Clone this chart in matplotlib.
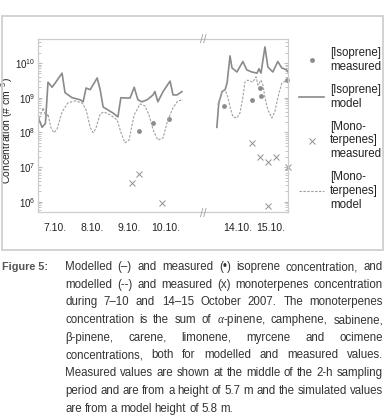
import numpy as np
import matplotlib
matplotlib.use('Agg')
import matplotlib.pyplot as plt
from matplotlib.patches import Rectangle

plt.rcParams['font.family'] = ['Liberation Sans', 'DejaVu Sans']
plt.rcParams['mathtext.fontset'] = 'custom'
plt.rcParams['mathtext.rm'] = 'Liberation Sans'
plt.rcParams['mathtext.it'] = 'Liberation Serif:italic'

# --- data (day of October 2007, concentration in # cm-3) ---
# 7.-10.10.
iso_model_day_a = [6.54, 6.65, 6.74, 6.81, 6.92, 7.00, 7.19, 7.27, 7.46, 7.68, 7.76, 7.84, 7.95,
                   8.14, 8.22, 8.30, 8.57, 8.70, 8.78, 8.89, 9.03, 9.14, 9.24, 9.35, 9.49,
                   9.65, 9.70, 9.78, 9.92, 10.11, 10.19, 10.30, 10.43]
iso_model_a = [2.8e8, 1.4e8, 1.8e8, 2.8e9, 2.0e9, 2.6e9, 5.1e9, 1.4e9, 1.0e9, 8.7e8, 7.6e8, 1.9e9, 1.7e9,
               3.7e9, 1.7e9, 5.4e8, 3.6e8, 2.8e8, 1.0e9, 9.8e8, 9.8e8, 2.0e9, 8.7e8, 7.6e8, 8.7e8,
               1.2e9, 1.5e9, 7.6e8, 1.5e9, 3.0e9, 1.2e9, 1.2e9, 1.5e9]
mono_model_day_a = [6.54, 6.68, 6.76, 6.81, 6.89, 6.97, 7.05, 7.19, 7.35, 7.54, 7.73, 7.84, 7.95,
                    8.03, 8.11, 8.22, 8.32, 8.49, 8.68, 8.78, 8.89, 9.00, 9.14, 9.30, 9.43,
                    9.54, 9.65, 9.78, 9.92, 10.05, 10.19, 10.32, 10.46]
mono_model_a = [2.0e8, 5.1e8, 2.6e8, 3.4e8, 1.35e8, 9.8e7, 1.2e8, 3.9e8, 7.1e8, 8.1e8, 7.1e8, 4.5e8, 1.4e8,
                9.8e7, 1.35e8, 3.4e8, 3.9e8, 3.2e8, 2.3e8, 1.0e8, 5.0e7, 6.0e7, 3.2e8, 6.6e8, 5.8e8,
                3.2e8, 1.2e8, 6.0e7, 6.9e7, 2.3e8, 5.1e8, 8.1e8, 8.7e8]
iso_meas_day_a = [9.27, 9.65, 10.08]
iso_meas_a = [1.1e8, 1.9e8, 2.5e8]
mono_meas_day_a = [9.08, 9.27, 9.89]
mono_meas_a = [3.5e6, 6.5e6, 9.3e5]

# 14.-15.10.
iso_model_day_b = [13.36, 13.42, 13.52, 13.61, 13.67, 13.76, 13.82, 13.97, 14.15, 14.27, 14.42,
                   14.58, 14.64, 14.70, 14.82, 14.91, 15.06, 15.21, 15.33, 15.48, 15.55]
iso_model_b = [1.4e8, 7.1e8, 1.5e9, 1.7e9, 2.6e9, 1.6e10, 7.2e9, 5.5e9, 1.1e10, 6.3e9, 5.5e9,
               5.1e9, 6.8e9, 5.1e9, 2.9e10, 7.6e9, 5.5e9, 1.1e10, 7.2e9, 6.3e9, 5.1e9]
mono_model_day_b = [13.39, 13.52, 13.61, 13.70, 13.76, 13.85, 13.97, 14.06, 14.15, 14.21, 14.30, 14.45,
                    14.55, 14.61, 14.70, 14.76, 14.82, 14.91, 15.03, 15.12, 15.21, 15.33, 15.48, 15.55]
mono_model_b = [6.2e8, 1.5e9, 1.7e9, 1.0e9, 5.4e8, 2.8e8, 2.6e8, 3.6e8, 1.0e9, 2.8e9, 3.2e9, 2.8e9,
                4.0e9, 2.3e9, 3.2e9, 2.3e9, 1.0e9, 4.5e8, 2.6e8, 3.9e8, 1.0e9, 2.6e9, 3.2e9, 3.2e9]
iso_meas_day_b = [13.58, 14.42, 14.70, 14.67, 15.48]
iso_meas_b = [5.8e8, 8.7e8, 1.1e9, 1.9e9, 3.2e9]
mono_meas_day_b = [14.42, 14.67, 14.91, 15.15, 15.52, 14.91]
mono_meas_b = [5.0e7, 1.9e7, 1.4e7, 1.9e7, 1.0e7, 7.6e5]

ticks_a = [7, 8, 9, 10]
ticks_b = [14, 15]
tick_labels_a = ['7.10.', '8.10.', '9.10.', '10.10.']
tick_labels_b = ['14.10.', '15.10.']

caption_lines = [
    'Modelled (–) and measured (•) isoprene concentration, and',
    'modelled (--) and measured (x) monoterpenes concentration',
    'during 7–10 and 14–15 October 2007. The monoterpenes',
    'concentration is the sum of $\\alpha$-pinene, camphene, sabinene,',
    'β-pinene, carene, limonene, myrcene and ocimene',
    'concentrations, both for modelled and measured values.',
    'Measured values are shown at the middle of the 2-h sampling',
    'period and are from a height of 5.7 m and the simulated values',
    'are from a model height of 5.8 m.',
]

W, H = 387, 418
fig = plt.figure(figsize=(W / 100, H / 100), dpi=100)

# outer frame round the chart
fig.add_artist(Rectangle((2 / W, 1 - 250 / H), 381 / W, 234 / H, transform=fig.transFigure,
                         fill=False, edgecolor='#cfcfcf', linewidth=1.3))

ax1 = fig.add_axes([38 / W, 1 - 212 / H, 165 / W, 173 / H])
ax2 = fig.add_axes([203 / W, 1 - 212 / H, 85 / W, 173 / H], sharey=ax1)

line_col = '#8a8a8a'
dash_col = '#a0a0a0'
for ax, d in [(ax1, 'a'), (ax2, 'b')]:
    g = globals()
    ax.plot(g['iso_meas_day_' + d], g['iso_meas_' + d], 'o', color='#8c8c8c', ms=3.5,
            mec='none', clip_on=False, label='[Isoprene]\nmeasured')
    ax.plot(g['iso_model_day_' + d], g['iso_model_' + d], '-', color=line_col, lw=1.2,
            label='[Isoprene]\nmodel')
    ax.plot(g['mono_meas_day_' + d], g['mono_meas_' + d], 'x', color='#909090', ms=4.5,
            mew=0.7, clip_on=False, label='[Mono-\nterpenes]\nmeasured')
    ax.plot(g['mono_model_day_' + d], g['mono_model_' + d], '--', color=dash_col, lw=0.8,
            dashes=(2.2, 1.3), label='[Mono-\nterpenes]\nmodel')
    ax.set_yscale('log')
    for s in ax.spines.values():
        s.set_color('#cccccc')
        s.set_linewidth(0.9)
    ax.tick_params(axis='x', length=0, labelsize=7.5, pad=8, colors='#222222')
    ax.tick_params(axis='y', which='both', direction='in', color='#bbbbbb', labelsize=7,
                   labelcolor='#222222', pad=2)
    ax.tick_params(axis='y', which='major', length=3)
    ax.tick_params(axis='y', which='minor', length=2)

ax1.set_ylim(5.1e5, 4.9e10)
ax1.set_xlim(6.54, 11.0)
ax2.set_xlim(12.94, 15.52)
ax1.set_xticks(ticks_a, tick_labels_a)
ax2.set_xticks(ticks_b, tick_labels_b)
ax1.spines['right'].set_visible(False)
ax2.spines['left'].set_visible(False)
ax2.tick_params(axis='y', which='both', left=False, labelleft=False, right=True)
ax1.set_ylabel('Concentration (# cm$^{-3}$)', fontsize=7.5, color='#222222')
ax1.yaxis.set_label_coords(-23 / 165, 0.47)

# axis break marks
for yy in (1 - 39 / H, 1 - 213 / H):
    fig.text(203 / W, yy, '//', ha='center', va='center', fontsize=7, color='#999999',
             family='DejaVu Sans')

h, l = ax2.get_legend_handles_labels()
fig.legend(h, l, loc='upper left', bbox_to_anchor=(299 / W, 1 - 47 / H), frameon=False,
           fontsize=8.3, handlelength=2.2, handletextpad=0.5, labelspacing=0.95,
           borderpad=0, borderaxespad=0, labelcolor='#222222')

# caption, justified line by line
fig.text(2 / W, 1 - 267 / H, 'Figure 5:', fontsize=7.8, fontweight='bold', color='#555555',
         va='center')
fig.canvas.draw()
r = fig.canvas.get_renderer()
x0, x1 = 65, 383
cap_size = 8.3
for i, line in enumerate(caption_lines):
    y = 1 - (267 + i * 17.7) / H
    words = line.split(' ')
    txts = [fig.text(0, y, w, fontsize=cap_size, color='#333333', va='center') for w in words]
    widths = [t.get_window_extent(r).width for t in txts]
    if i == len(caption_lines) - 1:
        gap = 3.0
    else:
        gap = (x1 - x0 - sum(widths)) / (len(words) - 1)
    x = x0
    for t, w in zip(txts, widths):
        t.set_x(x / W)
        x += w + gap

fig.savefig('out.png', dpi=100)
